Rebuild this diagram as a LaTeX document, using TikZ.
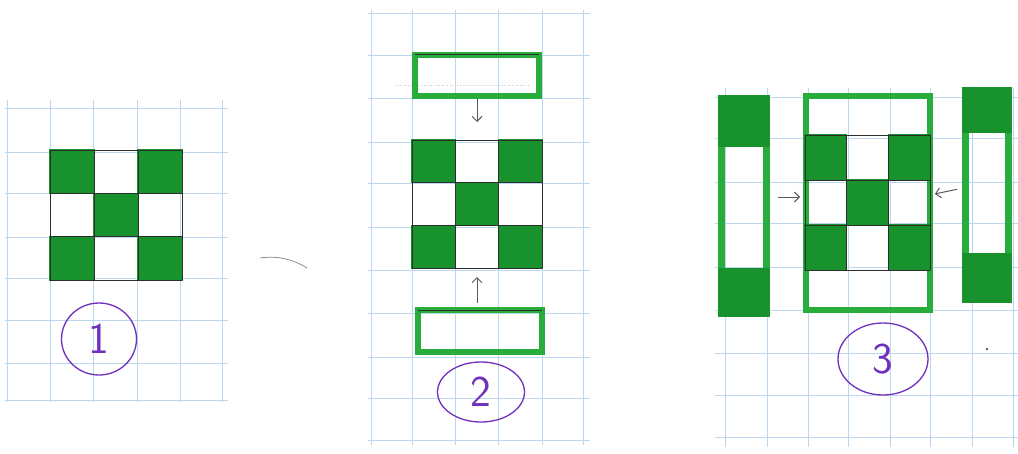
\documentclass[tikz,border=0pt]{standalone}
\usetikzlibrary{shapes.geometric,arrows.meta,calc}
\definecolor{gfill}{RGB}{24,146,44}
\definecolor{gline}{RGB}{40,172,60}
\definecolor{pencilc}{RGB}{45,45,45}
\definecolor{purp}{RGB}{112,48,190}
\definecolor{gridc}{RGB}{188,216,240}
\tikzset{
  box/.style={inner sep=0pt, outer sep=0pt},
  cellfill/.style={fill=gfill, draw=gfill, line width=1.5pt},
  gframe/.style={draw=gline, line width=6pt},
  pencil/.style={draw=pencilc, line width=0.9pt},
  arr/.style={draw=gray!70!black, line width=1pt, -{Straight Barb[length=5pt,width=10pt]}},
  lab/.style={ellipse, draw=purp, line width=1.3pt, text=purp, inner sep=0pt,
              font=\fontsize{44}{44}\selectfont\sffamily},
  gridl/.style={draw=gridc, line width=0.6pt},
}
\newcommand\chkboard[5]{% name, cx, cy, w, h
  \node[box, minimum width=#4pt, minimum height=#5pt] (#1) at (#2,#3) {};
  \foreach \i in {0,1,2}{\foreach \j in {0,1,2}{
    \pgfmathtruncatemacro\s{mod(\i+\j,2)}
    \ifnum\s=0
      \fill[cellfill] ([xshift=\i*#4/3*1pt, yshift=-\j*#5/3*1pt]#1.north west) rectangle ++(#4/3,#5/3);
    \fi}}
  \foreach \k in {0,1,2,3}{
    \draw[pencil] ([xshift=\k*#4/3*1pt]#1.north west) -- ([xshift=\k*#4/3*1pt]#1.south west);
    \draw[pencil] ([yshift=-\k*#5/3*1pt]#1.north west) -- ([yshift=-\k*#5/3*1pt]#1.north east);}
}
\begin{document}
\begin{tikzpicture}[x=1pt,y=-1pt]
\useasboundingbox (0,0) rectangle (1018,453);
\fill[white] (0,0) rectangle (1018,453);
% ---- graph paper grids
\foreach \x in {7,50,93,137,180,222} \draw[gridl] (\x,100) -- (\x,402);
\foreach \y in {108,152,193,237,278,320,363,400} \draw[gridl] (5,\y) -- (228,\y);
\foreach \x in {371,412,455,498,542,583} \draw[gridl] (\x,10) -- (\x,445);
\foreach \y in {13,55,98,142,183,227,270,313,357,398,440} \draw[gridl] (368,\y) -- (590,\y);
\foreach \x in {725,767,808,848,890,930,972,1013} \draw[gridl] (\x,88) -- (\x,447);
\foreach \y in {97,138,182,223,267,310,353,395,437} \draw[gridl] (715,\y) -- (1018,\y);
% stray marks
\draw[gray, line width=0.7pt] (260,258) .. controls (280,255) and (296,261) .. (307,268);
\draw[gray!40, line width=0.6pt, dotted] (395,85) -- (528,85);
\fill[pencilc] (987,349) circle (1.2);
% ---- panel 1
\chkboard{c1}{116}{215}{132}{130}
\node[lab, minimum width=75pt, minimum height=72pt] (l1) at (99,339) {1};
% ---- panel 2
\node[box, minimum width=124pt, minimum height=41pt, gframe] (t2) at (477,75) {};
\draw[pencil] (t2.north west) -- (t2.north east);
\chkboard{c2}{477}{204}{130}{128}
\node[box, minimum width=124pt, minimum height=42pt, gframe] (b2) at (480,331) {};
\draw[pencil] (b2.north west) -- (b2.north east);
\draw[arr, shorten <=3pt, shorten >=18pt] (t2.south) -- (c2.north);
\draw[arr, shorten <=7pt, shorten >=9pt] (b2.north -| c2.south) -- (c2.south);
\node[lab, minimum width=87pt, minimum height=60pt] (l2) at (481,392) {2};
% ---- panel 3
\node[box, minimum width=45pt, minimum height=215pt, draw=gline, line width=7pt] (s3l) at (744,206) {};
\fill[gfill] (718,95) rectangle (770,147);
\fill[gfill] (718,268) rectangle (770,317);
\node[box, minimum width=43pt, minimum height=209pt, draw=gline, line width=7pt] (s3r) at (987,195) {};
\fill[gfill] (962,87) rectangle (1012,133);
\fill[gfill] (962,253) rectangle (1012,303);
\node[box, minimum width=124pt, minimum height=214pt, gframe] (o3) at (868,203) {};
\chkboard{c3}{867.5}{202.5}{125}{135}
\draw[arr, shorten <=11pt, shorten >=5pt] ([yshift=9pt]s3l.east) -- ([yshift=5.5pt]c3.west);
\draw[arr, shorten <=8.5pt, shorten >=5pt] ([yshift=7.5pt]s3r.west) -- ([yshift=7.5pt]c3.east);
\node[lab, minimum width=90pt, minimum height=72pt] (l3) at (883,359) {3};
\end{tikzpicture}
\end{document}
